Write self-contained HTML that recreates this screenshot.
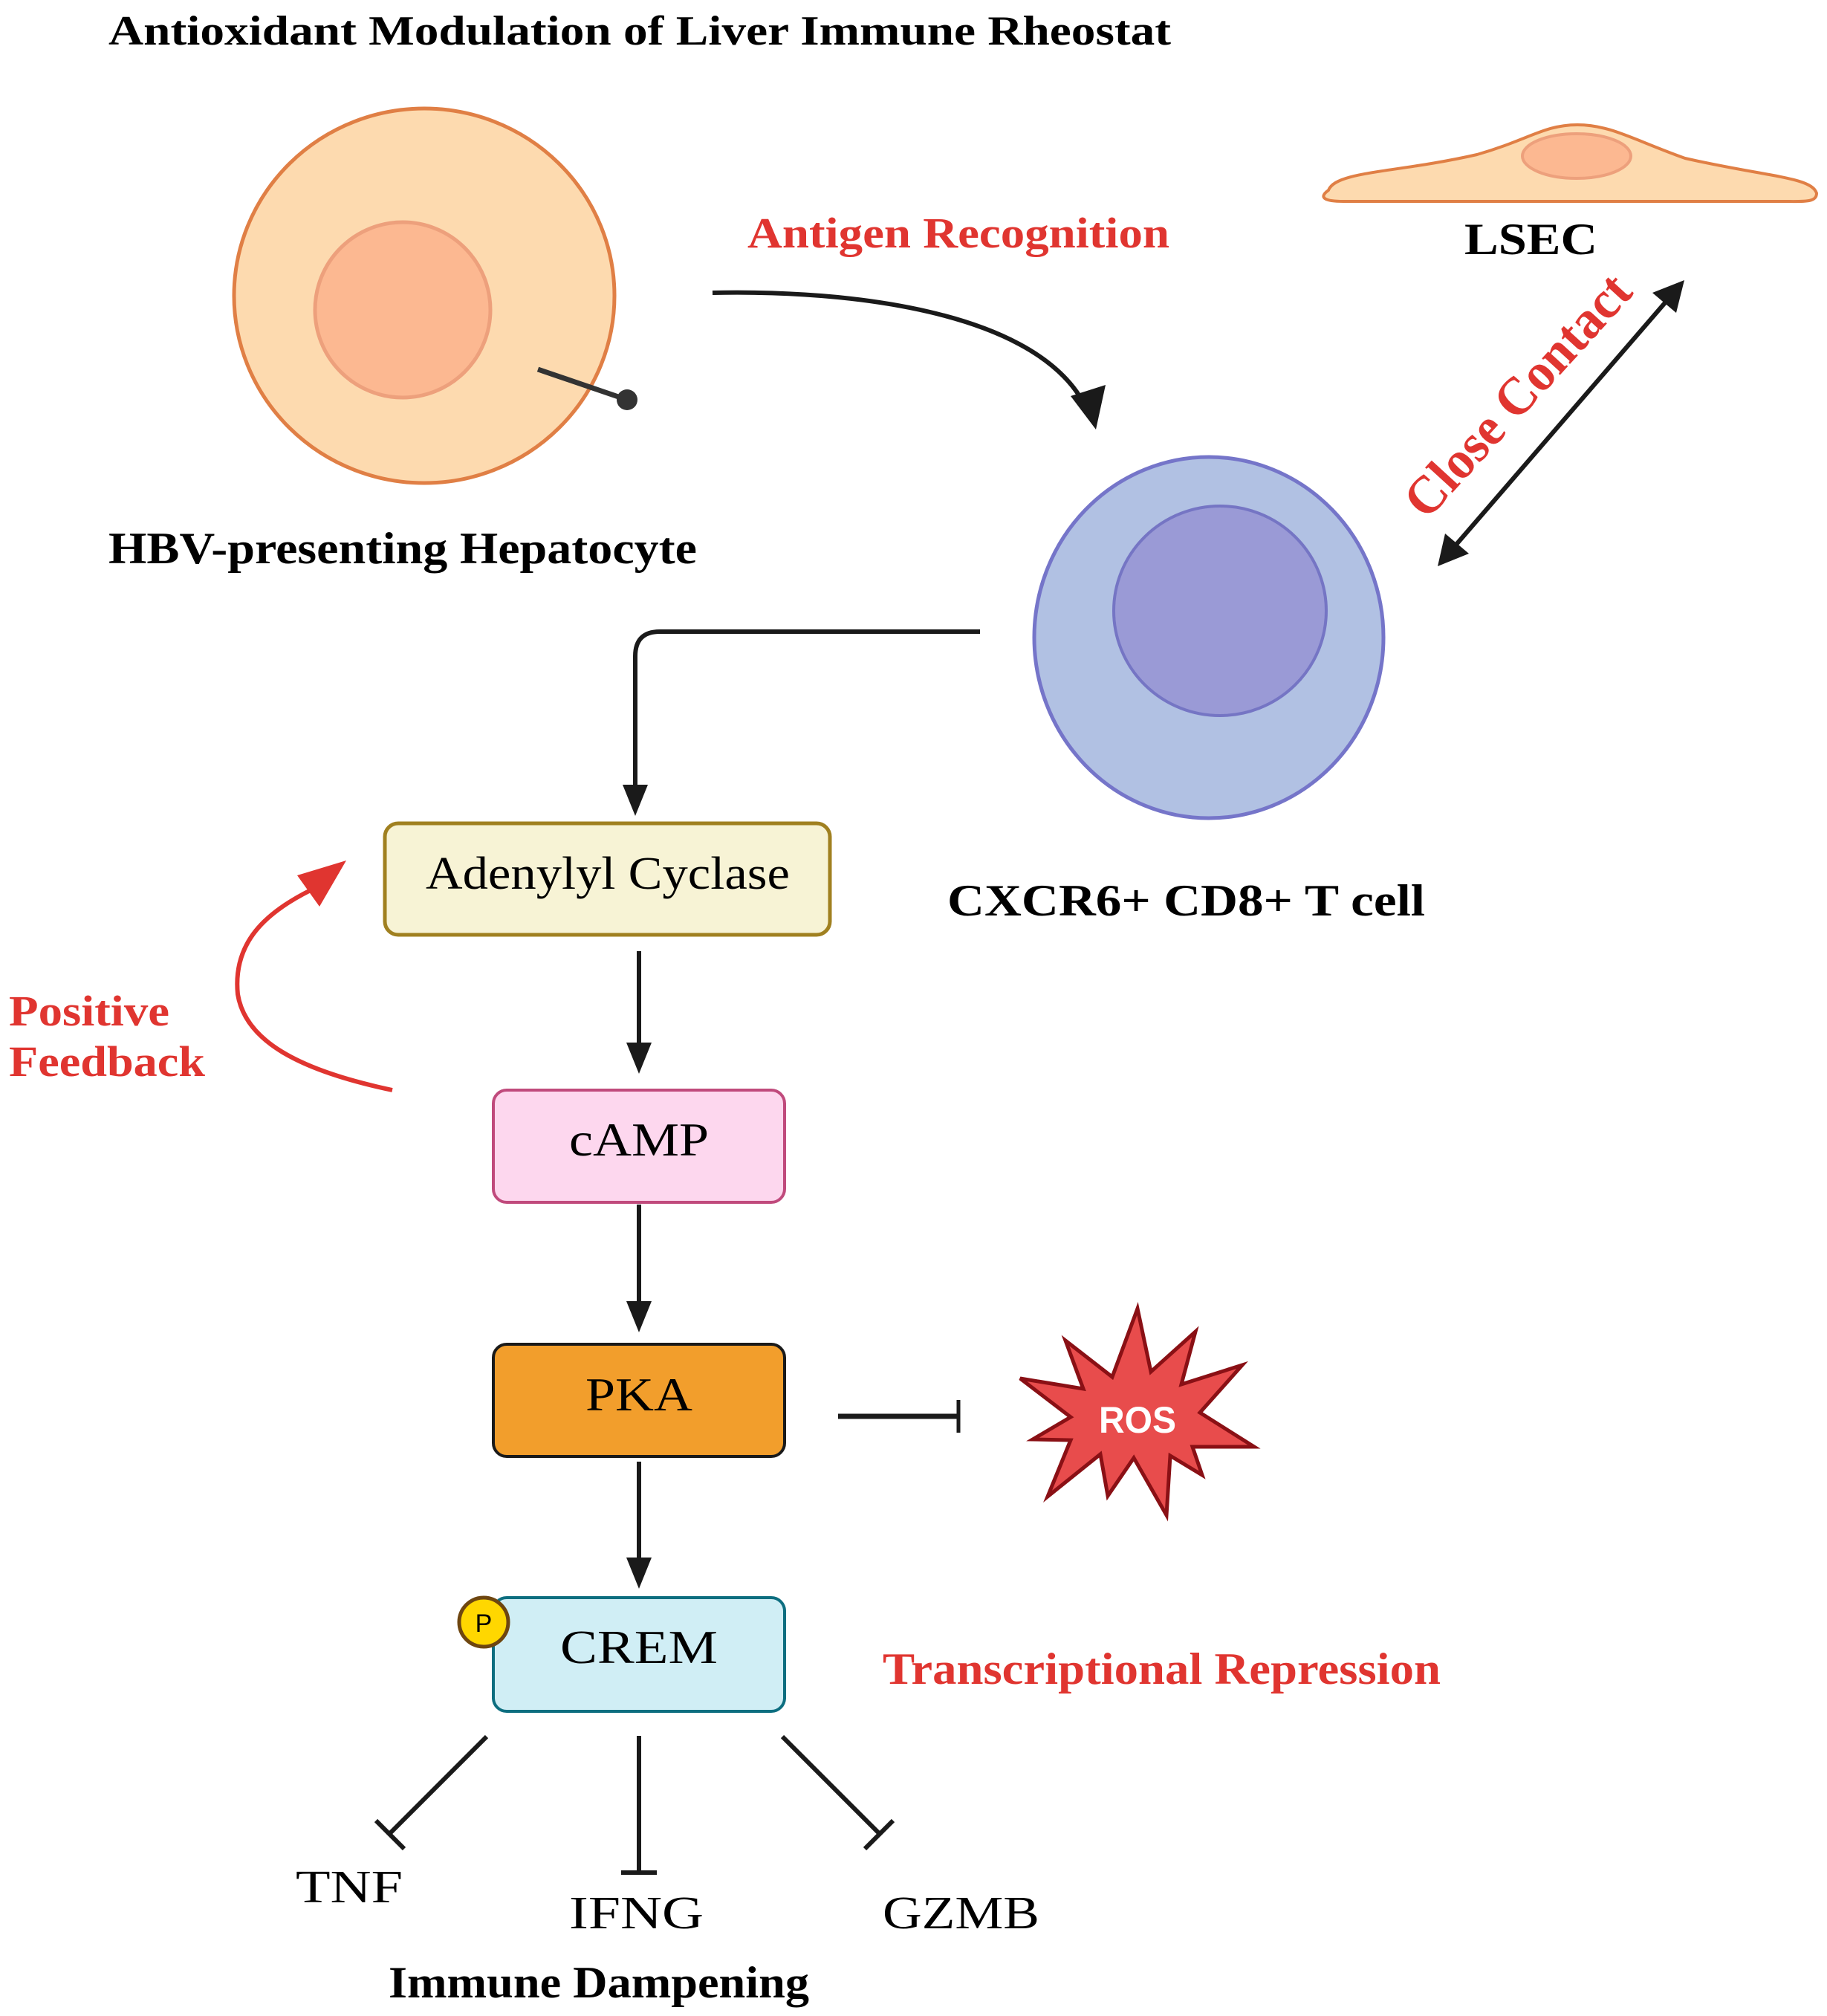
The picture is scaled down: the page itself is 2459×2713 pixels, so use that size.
<!DOCTYPE html>
<html><head><meta charset="utf-8"><style>html,body{margin:0;padding:0;background:#fff}svg{display:block}</style></head>
<body>
<svg width="2459" height="2713" viewBox="0 0 2459 2713" xmlns="http://www.w3.org/2000/svg" font-family="'Liberation Serif', serif">
<rect width="2459" height="2713" fill="#fff"/>
<!-- Title -->
<text x="146" y="60" font-size="56" font-weight="bold" textLength="1430" lengthAdjust="spacingAndGlyphs">Antioxidant Modulation of Liver Immune Rheostat</text>

<!-- Hepatocyte -->
<ellipse cx="571" cy="398" rx="256" ry="252" fill="#fddaaf" stroke="#e07f45" stroke-width="5"/>
<ellipse cx="542" cy="417" rx="118" ry="118" fill="#fcb891" stroke="#eda07c" stroke-width="5"/>
<line x1="724" y1="497" x2="844" y2="538" stroke="#333" stroke-width="7"/>
<circle cx="844" cy="538" r="14" fill="#333"/>
<text x="146" y="758" font-size="60" font-weight="bold" textLength="792" lengthAdjust="spacingAndGlyphs">HBV-presenting Hepatocyte</text>

<!-- Antigen Recognition -->
<text x="1006" y="333" font-size="58" font-weight="bold" fill="#e03530" textLength="568" lengthAdjust="spacingAndGlyphs">Antigen Recognition</text>
<path d="M959,394 C1150,390 1380,420 1453,533" fill="none" stroke="#1a1a1a" stroke-width="6"/>
<polygon points="1475,578 1441,533 1488,518" fill="#1a1a1a"/>

<!-- LSEC -->
<path d="M1788,256 C1798,230 1878,233 1988,208 C2058,188 2078,168 2123,168 C2168,168 2198,188 2268,213 C2378,238 2438,238 2445,260 C2445,273 2428,271 2398,271 L1808,271 C1783,271 1774,266 1788,256 Z" fill="#fddaaf" stroke="#e07f45" stroke-width="4"/>
<ellipse cx="2122" cy="210" rx="73" ry="30" fill="#fcb891" stroke="#eda07c" stroke-width="4"/>
<text x="1971" y="342" font-size="60" font-weight="bold" textLength="179" lengthAdjust="spacingAndGlyphs">LSEC</text>

<!-- Close contact -->
<line x1="1952" y1="742" x2="2250" y2="397" stroke="#1a1a1a" stroke-width="6"/>
<polygon points="1935,762 1945,718 1977,745" fill="#1a1a1a"/>
<polygon points="2267,377 2224,394 2256,421" fill="#1a1a1a"/>
<text transform="translate(2060,548) rotate(-47.6)" text-anchor="middle" font-size="72" font-weight="bold" fill="#e03530" textLength="415" lengthAdjust="spacingAndGlyphs">Close Contact</text>

<!-- T cell -->
<ellipse cx="1627" cy="858" rx="235" ry="243" fill="#b1c1e3" stroke="#7575c9" stroke-width="5"/>
<ellipse cx="1642" cy="822" rx="143" ry="141" fill="#9a9ad6" stroke="#7575c4" stroke-width="4"/>
<text x="1275" y="1232" font-size="60" font-weight="bold" textLength="643" lengthAdjust="spacingAndGlyphs">CXCR6+ CD8+ T cell</text>

<!-- elbow connector -->
<path d="M1319,850 L888,850 Q855,850 855,883 L855,1058" fill="none" stroke="#1a1a1a" stroke-width="6"/>
<polygon points="855,1098 838,1056 872,1056" fill="#1a1a1a"/>

<!-- Adenylyl Cyclase -->
<rect x="518" y="1108" width="599" height="150" rx="18" fill="#f7f3d5" stroke="#a08020" stroke-width="5"/>
<text x="818" y="1196" font-size="62" text-anchor="middle" textLength="490" lengthAdjust="spacingAndGlyphs">Adenylyl Cyclase</text>

<line x1="860" y1="1280" x2="860" y2="1408" stroke="#1a1a1a" stroke-width="6"/>
<polygon points="860,1445 843,1403 877,1403" fill="#1a1a1a"/>

<!-- cAMP -->
<rect x="664" y="1467" width="392" height="151" rx="18" fill="#fdd7ee" stroke="#c04a7c" stroke-width="4"/>
<text x="860" y="1555" font-size="64" text-anchor="middle" textLength="188" lengthAdjust="spacingAndGlyphs">cAMP</text>

<line x1="860" y1="1621" x2="860" y2="1753" stroke="#1a1a1a" stroke-width="6"/>
<polygon points="860,1793 843,1751 877,1751" fill="#1a1a1a"/>

<!-- PKA -->
<rect x="664" y="1809" width="392" height="151" rx="18" fill="#f29e2c" stroke="#1a1a1a" stroke-width="4"/>
<text x="860" y="1898" font-size="64" text-anchor="middle" textLength="144" lengthAdjust="spacingAndGlyphs">PKA</text>

<line x1="860" y1="1967" x2="860" y2="2098" stroke="#1a1a1a" stroke-width="6"/>
<polygon points="860,2138 843,2096 877,2096" fill="#1a1a1a"/>

<line x1="1128" y1="1906" x2="1290" y2="1906" stroke="#1a1a1a" stroke-width="7"/>
<line x1="1290" y1="1884" x2="1290" y2="1928" stroke="#1a1a1a" stroke-width="5"/>

<!-- ROS star -->
<polygon points="1531,1761 1549,1846 1609,1792 1590,1863 1672,1837 1615,1901 1688,1947 1605,1947 1618,1985 1575,1959 1570,2039 1526,1962 1491,2013 1481,1957 1410,2014 1441,1938 1390,1937 1441,1907 1373,1855 1458,1869 1434,1804 1497,1853" fill="#e84c4c" stroke="#8a1015" stroke-width="5" stroke-linejoin="miter"/>
<text x="1531" y="1928" font-family="'Liberation Sans', sans-serif" font-weight="bold" font-size="50" fill="#fff" text-anchor="middle" textLength="104" lengthAdjust="spacingAndGlyphs">ROS</text>

<!-- CREM -->
<rect x="664" y="2150" width="392" height="153" rx="18" fill="#d0eef5" stroke="#0d6e80" stroke-width="4"/>
<text x="860" y="2238" font-size="64" text-anchor="middle" textLength="212" lengthAdjust="spacingAndGlyphs">CREM</text>
<circle cx="651" cy="2183" r="33" fill="#ffd700" stroke="#6e4610" stroke-width="5"/>
<text x="651" y="2196" font-family="'Liberation Sans', sans-serif" font-size="34" text-anchor="middle">P</text>

<text x="1188" y="2266" font-size="60" font-weight="bold" fill="#e03530" textLength="751" lengthAdjust="spacingAndGlyphs">Transcriptional Repression</text>

<!-- inhibition lines -->
<line x1="655" y1="2337" x2="525" y2="2467" stroke="#1a1a1a" stroke-width="6"/>
<line x1="506" y1="2450" x2="544" y2="2488" stroke="#1a1a1a" stroke-width="6"/>
<line x1="860" y1="2336" x2="860" y2="2520" stroke="#1a1a1a" stroke-width="6"/>
<line x1="836" y1="2520" x2="884" y2="2520" stroke="#1a1a1a" stroke-width="6"/>
<line x1="1053" y1="2337" x2="1183" y2="2467" stroke="#1a1a1a" stroke-width="6"/>
<line x1="1164" y1="2488" x2="1202" y2="2450" stroke="#1a1a1a" stroke-width="6"/>

<text x="398" y="2560" font-size="62" textLength="144" lengthAdjust="spacingAndGlyphs">TNF</text>
<text x="766" y="2595" font-size="62" textLength="181" lengthAdjust="spacingAndGlyphs">IFNG</text>
<text x="1188" y="2595" font-size="62" textLength="211" lengthAdjust="spacingAndGlyphs">GZMB</text>
<text x="523" y="2688" font-size="60" font-weight="bold" textLength="566" lengthAdjust="spacingAndGlyphs">Immune Dampening</text>

<!-- Positive feedback -->
<text x="12" y="1380" font-size="58" font-weight="bold" fill="#e03530" textLength="216" lengthAdjust="spacingAndGlyphs">Positive</text>
<text x="12" y="1448" font-size="58" font-weight="bold" fill="#e03530" textLength="264" lengthAdjust="spacingAndGlyphs">Feedback</text>
<path d="M528,1467 C400,1440 330,1400 320,1338 C313,1268 358,1228 418,1198" fill="none" stroke="#e03530" stroke-width="6"/>
<polygon points="466,1158 400,1178 430,1220" fill="#e03530"/>
</svg>
</body></html>
